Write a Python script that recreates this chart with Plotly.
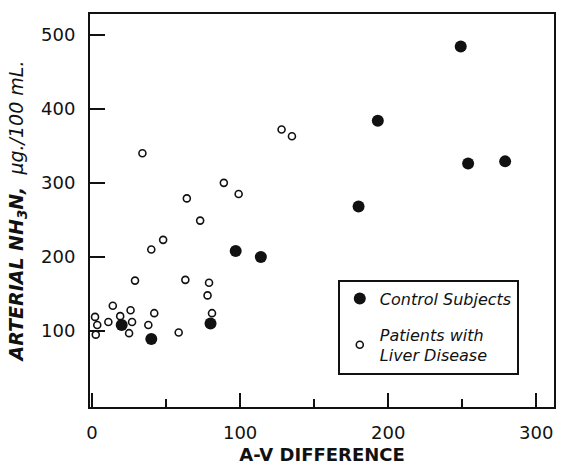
import plotly.graph_objects as go

# Control subjects (filled)
control_x = [249, 193, 254, 279, 180, 97, 114, 80, 20, 40]
control_y = [484, 384, 326, 329, 268, 208, 200, 110, 108, 89]

# Patients with liver disease (open)
liver_x = [34, 64, 89, 99, 73, 48, 128, 135, 40, 29, 63, 79, 78, 81,
           14, 26, 19, 2, 3.5, 11, 27, 42, 38, 25, 2.5, 58.5]
liver_y = [340, 279, 300, 285, 249, 223, 372, 363, 210, 168, 169, 165, 148, 124,
           134, 128, 120, 119, 108, 112, 112, 124, 108, 97, 95, 98]

x_ticks = [0, 100, 200, 300]
y_ticks = [100, 200, 300, 400, 500]

FONT = "DejaVu Sans"
INK = "#111111"

fig = go.Figure()
fig.add_trace(go.Scatter(
    x=control_x, y=control_y, mode="markers", name="Control Subjects",
    legendgroup="a",
    marker=dict(symbol="circle", size=12, color=INK, line=dict(width=0)),
))
fig.add_trace(go.Scatter(
    x=liver_x, y=liver_y, mode="markers", name="Patients with<br>Liver Disease",
    legendgroup="b",
    marker=dict(symbol="circle-open", size=7, color=INK, line=dict(width=1.6, color=INK)),
))

fig.update_layout(
    width=561, height=467,
    margin=dict(l=90, r=5, t=14, b=55),
    paper_bgcolor="white", plot_bgcolor="white",
    font=dict(family=FONT, color=INK),
    showlegend=True,
    legend=dict(
        x=0.534, y=0.324, xanchor="left", yanchor="top",
        bordercolor=INK, borderwidth=2, bgcolor="white",
        font=dict(family=FONT, size=16, color=INK, style="italic"),
        itemsizing="trace", tracegroupgap=12, traceorder="grouped",
    ),
    xaxis=dict(
        range=[-1.4, 312], tickvals=x_ticks, ticktext=[str(v) for v in x_ticks],
        ticks="inside", ticklen=14, tickwidth=1.5, tickcolor=INK,
        showline=True, linewidth=2, linecolor=INK, mirror=True,
        showgrid=False, zeroline=False,
        tickfont=dict(family=FONT, size=18, color=INK),
        ticklabelstandoff=8,
        minor=dict(tickvals=[50, 150, 250], ticks="inside", ticklen=8,
                   tickwidth=1.5, tickcolor=INK, showgrid=False),
        title=dict(text="<b>A-V DIFFERENCE</b>", font=dict(family=FONT, size=18, color=INK),
                   standoff=7),
    ),
    yaxis=dict(
        range=[-2.7, 528], tickvals=y_ticks, ticktext=[str(v) for v in y_ticks],
        ticks="inside", ticklen=15, tickwidth=1.5, tickcolor=INK,
        showline=True, linewidth=2, linecolor=INK, mirror=True,
        showgrid=False, zeroline=False,
        tickfont=dict(family=FONT, size=18, color=INK),
        ticklabelstandoff=9,
        title=dict(text="<b><i>ARTERIAL NH<sub>3</sub>N,</i></b>  <i>µg./100 mL.</i>",
                   font=dict(family=FONT, size=19, color=INK), standoff=12),
    ),
)

fig.write_html("out.html")
